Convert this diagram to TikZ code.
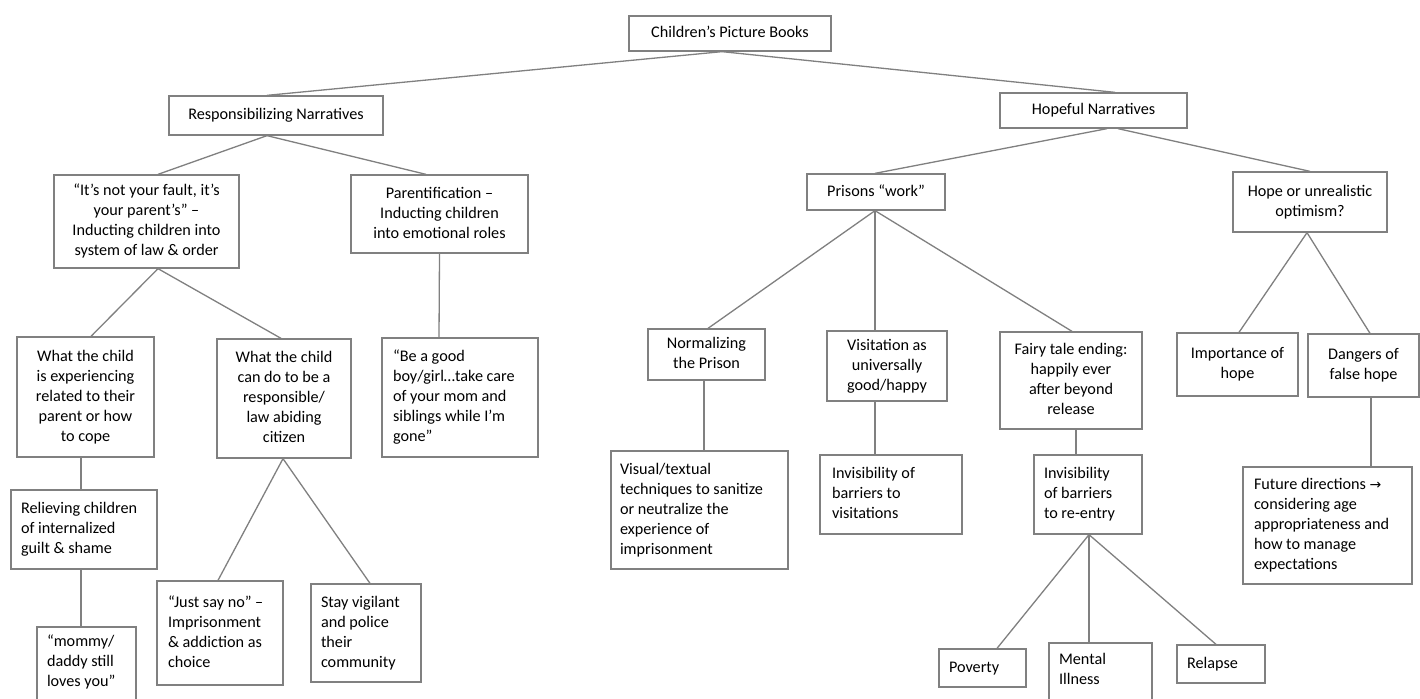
\documentclass[tikz,border=0pt]{standalone}
\usepackage{fontspec}
\setmainfont{Carlito}
\newfontfamily\arrowfont{DejaVu Sans}
\definecolor{lc}{RGB}{128,128,128}
\newcommand{\cbx}[1]{\begin{tabular}{@{}c@{}}#1\end{tabular}}
\newcommand{\lbx}[2]{\makebox[#1][l]{\begin{tabular}{@{}l@{}}#2\end{tabular}}}
\tikzset{
  box/.style={draw=lc, line width=1.3pt, rectangle, inner sep=0pt, text=black,
    font=\fontsize{16.2}{20}\selectfont},
  link/.style={draw=lc, line width=1.3pt}
}
\begin{document}
\begin{tikzpicture}[x=1pt,y=-1pt]
\useasboundingbox (0,0) rectangle (1420,698);
\fill[white] (0,0) rectangle (1420,698);
\clip (0,0) rectangle (1420,698);

% level 0-1
\node[box, minimum width=202pt, minimum height=35pt] (root) at (730,33.5) {\cbx{Children’s Picture Books}};
\node[box, minimum width=214pt, minimum height=39pt] (resp) at (276,115.5) {\cbx{Responsibilizing Narratives}};
\node[box, minimum width=187pt, minimum height=35pt] (hope) at (1093.5,110.5) {\cbx{Hopeful Narratives}};

% level 2
\node[box, minimum width=185pt, minimum height=93pt] (fault) at (146.5,221.5) {\cbx{“It’s not your fault, it’s\\your parent’s” –\\Inducting children into\\system of law \& order}};
\node[box, minimum width=177pt, minimum height=78pt] (parent) at (439.5,214) {\cbx{Parentification –\\Inducting children\\into emotional roles}};
\node[box, minimum width=138pt, minimum height=36pt] (prisons) at (876,192) {\cbx{Prisons “work”}};
\node[box, minimum width=154pt, minimum height=60pt] (hopeor) at (1310,202) {\cbx{Hope or unrealistic\\optimism?}};

% level 3
\node[box, minimum width=137pt, minimum height=120pt] (whatexp) at (85.5,397) {\cbx{What the child\\is experiencing\\related to their\\parent or how\\to cope}};
\node[box, minimum width=134pt, minimum height=119pt] (whatdo) at (284,398.5) {\cbx{What the child\\can do to be a\\responsible/\\law abiding\\citizen}};
\node[box, minimum width=156pt, minimum height=119pt] (begood) at (460,397.5) {\lbx{134pt}{“Be a good\\boy/girl…take care\\of your mom and\\siblings while I’m\\gone”}};
\node[box, minimum width=117pt, minimum height=51pt] (normal) at (706.5,354.5) {\cbx{Normalizing\\the Prison}};
\node[box, minimum width=120pt, minimum height=70pt] (visit) at (887,366) {\cbx{Visitation as\\universally\\good/happy}};
\node[box, minimum width=142pt, minimum height=97pt] (fairy) at (1071,380.5) {\cbx{Fairy tale ending:\\happily ever\\after beyond\\release}};
\node[box, minimum width=121pt, minimum height=63pt] (import) at (1237.5,364.5) {\cbx{Importance of\\hope}};
\node[box, minimum width=111pt, minimum height=63pt] (danger) at (1363.5,365.5) {\cbx{Dangers of\\false hope}};

% level 4
\node[box, minimum width=146pt, minimum height=79pt] (relieve) at (84,529.5) {\lbx{126pt}{Relieving children\\of internalized\\guilt \& shame}};
\node[box, minimum width=126pt, minimum height=104pt] (justsay) at (220,633) {\lbx{104pt}{“Just say no” –\\Imprisonment\\\& addiction as\\choice}};
\node[box, minimum width=110pt, minimum height=98pt] (stay) at (366,633) {\lbx{90pt}{Stay vigilant\\and police\\their\\community}};
\node[box, minimum width=99pt, minimum height=110pt] (mommy) at (86.5,682) {\lbx{79pt}{“mommy/\\daddy still\\loves you”\\\mbox{}\\\mbox{}}};
\node[box, minimum width=177pt, minimum height=118pt] (visual) at (699.5,510) {\lbx{159pt}{Visual/textual\\techniques to sanitize\\or neutralize the\\experience of\\imprisonment}};
\node[box, minimum width=142pt, minimum height=79pt] (invisit) at (891,494.5) {\lbx{118pt}{Invisibility of\\barriers to\\visitations}};
\node[box, minimum width=108pt, minimum height=79pt] (reentry) at (1088,494.5) {\lbx{88pt}{Invisibility\\of barriers\\to re-entry}};
\node[box, minimum width=169pt, minimum height=117pt] (future) at (1327.5,525.5) {\lbx{147pt}{Future directions {\arrowfont\fontsize{14}{20}\selectfont →}\\considering age\\appropriateness and\\how to manage\\expectations}};

% level 5
\node[box, minimum width=87pt, minimum height=38pt] (poverty) at (982.5,668) {\lbx{67pt}{Poverty}};
\node[box, minimum width=103pt, minimum height=94pt] (mental) at (1100.5,690) {\lbx{83pt}{Mental\\Illness\\\mbox{}\\\mbox{}}};
\node[box, minimum width=88pt, minimum height=38pt] (relapse) at (1221,664) {\lbx{68pt}{Relapse}};

% connectors
\draw[link] ([xshift=-8pt]root.south) -- ([xshift=-9pt]resp.north);
\draw[link] ([xshift=-8pt]root.south) -- ([xshift=21.5pt]hope.north);
\draw[link] ([xshift=-9pt]resp.south) -- ([xshift=11.5pt]fault.north);
\draw[link] ([xshift=-9pt]resp.south) -- ([xshift=-13.5pt]parent.north);
\draw[link] ([xshift=11.5pt]fault.south) -- ([xshift=5.5pt]whatexp.north);
\draw[link] ([xshift=11.5pt]fault.south) -- ([xshift=-3pt]whatdo.north);
\draw[link] (parent.south) -- ([xshift=-21pt]begood.north);
\draw[link] ([xshift=-4.5pt]whatexp.south) -- ([xshift=-3pt]relieve.north);
\draw[link] ([xshift=-3pt]relieve.south) -- ([xshift=-5.5pt]mommy.north);
\draw[link] ([xshift=-1pt]whatdo.south) -- ([xshift=-2pt]justsay.north);
\draw[link] ([xshift=-1pt]whatdo.south) -- ([xshift=4pt]stay.north);
\draw[link] ([xshift=13.5pt]hope.south) -- ([xshift=-1pt]prisons.north);
\draw[link] ([xshift=24.5pt]hope.south) -- (hopeor.north);
\draw[link] ([xshift=-1pt]prisons.south) -- ([xshift=1.5pt]normal.north);
\draw[link] ([xshift=-1pt]prisons.south) -- ([xshift=-12pt]visit.north);
\draw[link] ([xshift=-1pt]prisons.south) -- ([xshift=1pt]fairy.north);
\draw[link] ([xshift=-3pt]hopeor.south) -- ([xshift=1.5pt]import.north);
\draw[link] ([xshift=-3pt]hopeor.south) -- ([xshift=6.5pt]danger.north);
\draw[link] ([xshift=-2.5pt]normal.south) -- ([xshift=4.5pt]visual.north);
\draw[link] ([xshift=-12pt]visit.south) -- ([xshift=-16pt]invisit.north);
\draw[link] ([xshift=5pt]fairy.south) -- ([xshift=-12pt]reentry.north);
\draw[link] ([xshift=1pt]reentry.south) -- ([xshift=14.5pt]poverty.north);
\draw[link] ([xshift=1pt]reentry.south) -- ([xshift=-11.5pt]mental.north);
\draw[link] ([xshift=1pt]reentry.south) -- ([xshift=-5pt]relapse.north);
\draw[link] ([xshift=7.5pt]danger.south) -- ([xshift=43.5pt]future.north);
\end{tikzpicture}
\end{document}
